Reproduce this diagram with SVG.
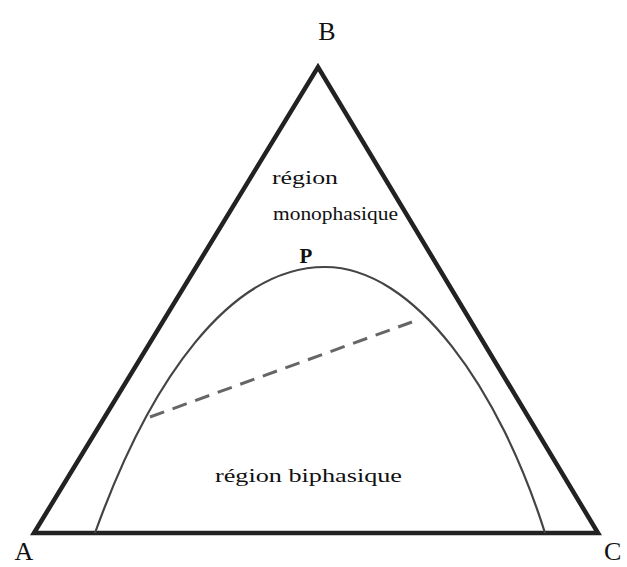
<svg xmlns="http://www.w3.org/2000/svg" width="627" height="567" viewBox="0 0 627 567">
<style>
.lbl{font-family:"Liberation Serif","DejaVu Serif",serif;fill:#111}
.big{font-size:26px}
.mid{font-size:19px}
</style>
<rect width="627" height="567" fill="#fff"/>
<g id="connectors">
<polygon id="triangle" points="34,533 318,67 598,533" fill="none" stroke="#222" stroke-width="4.5" stroke-linejoin="miter"/>
<path id="binodal" d="M95,533 C150,380 230,267 325,267 C415,267 500,390 545,533" fill="none" stroke="#444" stroke-width="2.2"/>
<line id="tieline" x1="150" y1="417" x2="412" y2="322" stroke="#666" stroke-width="3" stroke-dasharray="15,9"/>
</g>
<g id="label-B"><text class="lbl big" x="327" y="40" text-anchor="middle">B</text></g>
<g id="label-A"><text class="lbl big" x="24" y="560" text-anchor="middle">A</text></g>
<g id="label-C"><text class="lbl big" x="604" y="560">C</text></g>
<g id="label-P"><text class="lbl" x="306" y="263" text-anchor="middle" font-size="21" font-weight="bold">P</text></g>
<g id="region-mono">
<text class="lbl mid" x="272" y="184" textLength="66" lengthAdjust="spacingAndGlyphs">région</text>
<text class="lbl mid" x="273" y="220" textLength="125" lengthAdjust="spacingAndGlyphs">monophasique</text>
</g>
<g id="region-bi"><text class="lbl mid" x="215" y="482" textLength="187" lengthAdjust="spacingAndGlyphs">région biphasique</text></g>
</svg>
